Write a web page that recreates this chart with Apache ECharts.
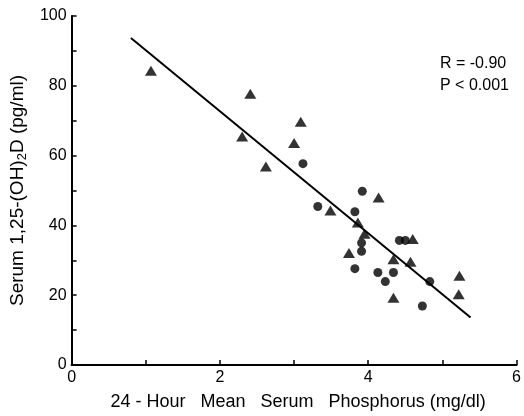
<!DOCTYPE html>
<html>
<head>
<meta charset="utf-8">
<script src="https://cdn.jsdelivr.net/npm/echarts@6/dist/echarts.min.js"></script>
<style>
  html, body { margin: 0; padding: 0; background: #fff; }
  #container { width: 524px; height: 416px; }
</style>
</head>
<body>
<div id="container"></div>
<script>
// triangles: [phosphorus, 1,25-(OH)2D]
var triPoints = [
  [1.07, 84.3], [2.41, 77.7], [2.30, 65.5], [2.62, 56.9], [3.00, 63.6],
  [3.09, 69.7], [3.49, 44.3], [4.14, 48.0], [3.86, 40.8], [3.95, 37.6],
  [3.74, 32.1], [4.34, 30.3], [4.60, 36.1], [4.57, 29.6], [4.34, 19.3],
  [5.23, 25.6], [5.22, 20.3]
];
// circles
var dotPoints = [
  [3.12, 57.7], [3.32, 45.4], [3.92, 49.8], [3.82, 43.9], [3.91, 35.0],
  [3.91, 32.6], [3.82, 27.6], [4.13, 26.5], [4.34, 26.5], [4.23, 23.9],
  [4.42, 35.7], [4.50, 35.7], [4.83, 23.9], [4.73, 16.9]
];
// regression line ends
var fitLine = [[0.80, 93.7], [5.38, 13.6]];

var xTicks = [0, 2, 4, 6];
var yTicks = [0, 20, 40, 60, 80, 100];
var statsText = ['R = -0.90', 'P < 0.001'];

var dom = document.getElementById('container');
var myChart = echarts.init(dom, null, { renderer: 'canvas' });

var font = 'Liberation Sans';

var option = {
  backgroundColor: '#fff',
  animation: false,
  grid: { left: 71, right: 7, top: 16, bottom: 45 },
  xAxis: {
    type: 'value',
    min: 0, max: 6, interval: 1,
    name: '24 - Hour   Mean   Serum   Phosphorus (mg/dl)',
    nameLocation: 'middle',
    nameGap: 28,
    nameTextStyle: { color: '#000', fontSize: 18, fontFamily: font, padding: [0, 0, 0, 8] },
    axisLine: { lineStyle: { color: '#000', width: 2 } },
    axisTick: { inside: true, length: 5, lineStyle: { color: '#000', width: 1.5 } },
    axisLabel: {
      color: '#000', fontSize: 16, fontFamily: font, margin: 5,
      formatter: function (v) { return xTicks.indexOf(v) >= 0 ? String(v) : ''; }
    },
    splitLine: { show: false }
  },
  yAxis: {
    type: 'value',
    min: 0, max: 100, interval: 10,
    name: '{a|Serum 1,25-(OH)}{s|2}{a|D (pg/ml)}',
    nameLocation: 'middle',
    nameGap: 40,
    nameTextStyle: {
      color: '#000', fontFamily: font,
      rich: {
        a: { fontSize: 19, fontFamily: font, color: '#000' },
        s: { fontSize: 13, fontFamily: font, color: '#000', padding: [10, 0, 0, 0] }
      }
    },
    axisLine: { lineStyle: { color: '#000', width: 2 } },
    axisTick: { inside: true, length: 5, lineStyle: { color: '#000', width: 1.5 } },
    axisLabel: {
      color: '#000', fontSize: 16, fontFamily: font, margin: 5,
      formatter: function (v) { return yTicks.indexOf(v) >= 0 ? String(v) : ''; }
    },
    splitLine: { show: false }
  },
  graphic: [{
    type: 'text',
    left: 440, top: 53,
    style: {
      text: statsText.join('\n'),
      fill: '#000',
      font: '16px "Liberation Sans"',
      lineHeight: 22
    }
  }],
  series: [
    {
      type: 'line',
      data: fitLine,
      symbol: 'none',
      lineStyle: { color: '#000', width: 2 },
      z: 1
    },
    {
      type: 'scatter',
      data: triPoints,
      symbol: 'triangle',
      symbolSize: [12, 10],
      itemStyle: { color: '#000' },
      z: 2
    },
    {
      type: 'scatter',
      data: dotPoints,
      symbol: 'circle',
      symbolSize: 9,
      itemStyle: { color: '#000' },
      z: 2
    }
  ]
};

myChart.setOption(option);
window.addEventListener('resize', myChart.resize);
</script>
</body>
</html>
